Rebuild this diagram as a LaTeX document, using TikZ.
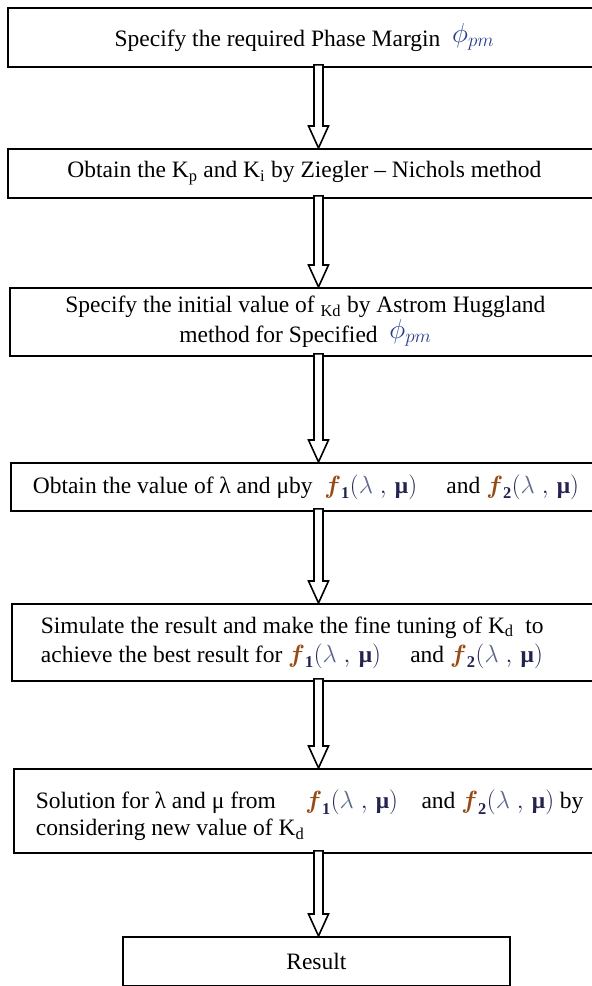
\documentclass[tikz,border=0pt]{standalone}
\usepackage{fontspec}
\usepackage{amsmath}
\usepackage{graphicx}
\setmainfont{Liberation Serif}
\usetikzlibrary{calc}
\definecolor{phicol}{RGB}{40,60,140}
\definecolor{fcol}{RGB}{150,75,20}
\definecolor{lamcol}{RGB}{95,105,140}
\definecolor{mucol}{RGB}{35,35,80}
\newcommand\phipm{\raisebox{0.4ex}{\textcolor{phicol}{\scalebox{1.1}{$\phi_{pm}$}}}}
\newcommand\flm[1]{{\color{mucol}$\boldsymbol{\textcolor{fcol}{f}}_{\mathbf{#1}}\mathbf{(}{\color{lamcol}\lambda}\;,\,\text{\textbf{μ}}\mathbf{)}$}}
\tikzset{
  box/.style={draw, line width=1.8pt, rectangle, inner sep=0pt, anchor=north west,
    font=\fontsize{23.5}{24}\selectfont},
  fatarr/.style={draw, fill=white, line width=1.6pt, line join=miter}
}
\newcommand\fatarrow[2]{%
  \draw[fatarr] let \p1=(#1.south -| ax), \p2=(#2.north -| ax) in
    (\x1-4.5pt,\y1+3pt) -- (\x1-4.5pt,\y2+22pt) -- (\x1-10pt,\y2+22pt) -- (\x2,\y2)
    -- (\x1+10pt,\y2+22pt) -- (\x1+4.5pt,\y2+22pt) -- (\x1+4.5pt,\y1+3pt) -- cycle;}
\begin{document}
\begin{tikzpicture}[x=1pt,y=-1pt]
\useasboundingbox (0,0) rectangle (592,986);
\fill[white] (0,0) rectangle (592,986);
\clip (0,0) rectangle (592,986);
\coordinate (ax) at (318.5,0);
\node[box, minimum width=593pt, minimum height=59pt, align=center] (b1) at (7,7)
  {Specify the required Phase Margin \ \phipm};
\node[box, minimum width=593pt, minimum height=49pt, align=center] (b2) at (7,148)
  {Obtain the K\textsubscript{p} and K\textsubscript{i} by Ziegler -- Nichols method};
\node[box, minimum width=591pt, minimum height=68pt, align=center] (b3) at (9,287)
  {Specify the initial value of \textsubscript{Kd} by Astrom Huggland\\ method for Specified \ \phipm};
\node[box, minimum width=590pt, minimum height=48pt, align=center] (b4) at (10,462)
  {Obtain the value of λ and μby \ \flm{1}\quad\ and \flm{2}};
\node[box, minimum height=77pt, inner xsep=29pt, text width=580pt, align=flush left] (b5) at (11,603)
  {Simulate the result and make the fine tuning of K\textsubscript{d}\ \ to\\[5pt]
   achieve the best result for \flm{1}\quad\ and \flm{2}};
\node[box, minimum height=84pt, inner xsep=22pt, text width=580pt, align=flush left] (b6) at (13,768)
  {\rule{0pt}{28pt}Solution for λ and μ from \quad\flm{1}\quad and \flm{2} by\\[3pt]
   considering new value of K\textsubscript{d}};
\node[box, minimum width=387pt, minimum height=49pt, align=center] (r) at (122,936) {Result};
\fatarrow{b1}{b2}
\fatarrow{b2}{b3}
\fatarrow{b3}{b4}
\fatarrow{b4}{b5}
\fatarrow{b5}{b6}
\fatarrow{b6}{r}
\end{tikzpicture}
\end{document}
